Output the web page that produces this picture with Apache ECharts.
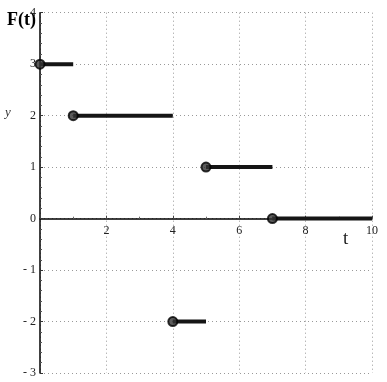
<!DOCTYPE html>
<html><head><meta charset="utf-8">
<script src="https://cdn.jsdelivr.net/npm/echarts@6/dist/echarts.min.js"></script>
<style>html,body{margin:0;padding:0;background:#fff}#c{width:387px;height:382px}</style>
</head><body><div id="c"></div>
<script>
const segStart = [0, 1, 4, 5, 7];
const segEnd   = [1, 4, 5, 7, 10];
const segValue = [3, 2, -2, 1, 0];
const xTicks = [2, 4, 6, 8, 10];
const yTicks = [-3, -2, -1, 0, 1, 2, 3, 4];

const chart = echarts.init(document.getElementById('c'));
const serif = 'Liberation Serif';
const series = [];
segStart.forEach((s, i) => {
  series.push({
    type: 'line', data: [[s, segValue[i]], [segEnd[i], segValue[i]]],
    showSymbol: false, lineStyle: {color: '#151515', width: 4}, z: 3, silent: true
  });
});
series.push({
  type: 'scatter', data: segStart.map((s, i) => [s, segValue[i]]),
  symbol: 'circle', symbolSize: 9,
  itemStyle: {color: '#333', borderColor: '#000', borderWidth: 2}, z: 4, silent: true
});
chart.setOption({
  animation: false,
  grid: {left: 40, right: 15, top: 12.7, bottom: 9, containLabel: false},
  xAxis: {
    type: 'value', min: 0, max: 10, interval: 2,
    position: 'bottom', offset: -154.3,
    axisLine: {onZero: false, lineStyle: {color: '#000', width: 1.5}},
    axisTick: {show: true, inside: true, length: 3, lineStyle: {color: '#444'}},
    minorTick: {show: true, splitNumber: 2, length: 2, lineStyle: {color: '#666'}},
    axisLabel: {fontFamily: serif, fontSize: 12, color: '#222', margin: 6,
      formatter: v => xTicks.includes(v) ? String(v) : ''},
    splitLine: {show: true, lineStyle: {color: '#999', type: [1, 3], width: 1}}
  },
  yAxis: {
    type: 'value', min: -3, max: 4, interval: 1,
    axisLine: {onZero: false, show: true, lineStyle: {color: '#000', width: 1.5}},
    axisTick: {show: true, inside: true, length: 3, lineStyle: {color: '#333'}},
    minorTick: {show: true, splitNumber: 5, length: 2, lineStyle: {color: '#555'}},
    axisLabel: {fontFamily: serif, fontSize: 12, color: '#222', margin: 4,
      formatter: v => yTicks.includes(v) ? (v < 0 ? '- ' + Math.abs(v) : String(v)) : ''},
    splitLine: {show: true, lineStyle: {color: '#999', type: [1, 3], width: 1}}
  },
  graphic: [
    {type: 'text', left: 7, top: 11, style: {text: 'F(t)', font: 'bold 18px "Liberation Serif"', fill: '#000'}},
    {type: 'text', left: 5, top: 106, style: {text: 'y', font: 'italic 13px "Liberation Serif"', fill: '#333'}},
    {type: 'text', left: 343, top: 230, style: {text: 't', font: '19px "Liberation Serif"', fill: '#222'}}
  ],
  series: series
});
</script></body></html>
